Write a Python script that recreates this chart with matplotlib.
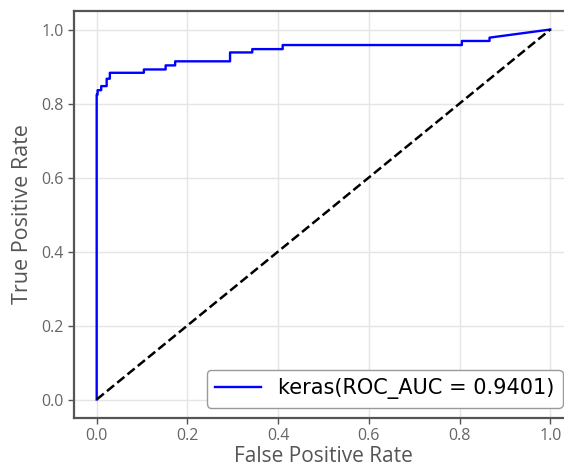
import numpy as np
import matplotlib.pyplot as plt

plt.rcParams['font.family'] = ['Open Sans', 'DejaVu Sans']

# ROC curve points
fpr = [0.0, 0.0, 0.002, 0.002, 0.010, 0.010, 0.022, 0.022, 0.029, 0.029,
       0.104, 0.104, 0.152, 0.152, 0.173, 0.173, 0.294, 0.294, 0.343, 0.343,
       0.410, 0.410, 0.805, 0.805, 0.866, 0.866, 1.0]
tpr = [0.0, 0.824, 0.824, 0.836, 0.836, 0.847, 0.847, 0.867, 0.867, 0.883,
       0.883, 0.892, 0.892, 0.903, 0.903, 0.914, 0.914, 0.938, 0.938, 0.947,
       0.947, 0.958, 0.958, 0.969, 0.969, 0.978, 1.0]
roc_auc = 0.9401
model_name = "keras"

ticks = [0.0, 0.2, 0.4, 0.6, 0.8, 1.0]

fig = plt.figure(figsize=(5.64, 4.68), dpi=100)
ax = fig.add_axes([74 / 564, 50 / 468, 499 / 564, 407 / 468])

ax.plot(fpr, tpr, color="blue", lw=1.7,
        label=f"{model_name}(ROC_AUC = {roc_auc:.4f})")
ax.plot([0, 1], [0, 1], "k--", lw=1.8)

ax.set_xlim(-0.05, 1.05)
ax.set_ylim(-0.05, 1.05)
ax.set_xticks(ticks)
ax.set_yticks(ticks)
ax.grid(True, color="#e5e5e5", lw=1)
ax.set_axisbelow(True)

for s in ax.spines.values():
    s.set_color("#555555")
    s.set_linewidth(1.6)
ax.tick_params(colors="#555555", labelcolor="#666666", labelsize=11.5,
               length=4, width=1)

ax.set_xlabel("False Positive Rate", fontsize=15, color="#555555", labelpad=1)
ax.set_ylabel("True Positive Rate", fontsize=15.5, color="#555555", labelpad=6)

leg = ax.legend(loc="lower right", handlelength=2.2,
                edgecolor="#999999", framealpha=1,
                prop={"family": "DejaVu Sans", "size": 15})

fig.savefig("out.png", dpi=100)
